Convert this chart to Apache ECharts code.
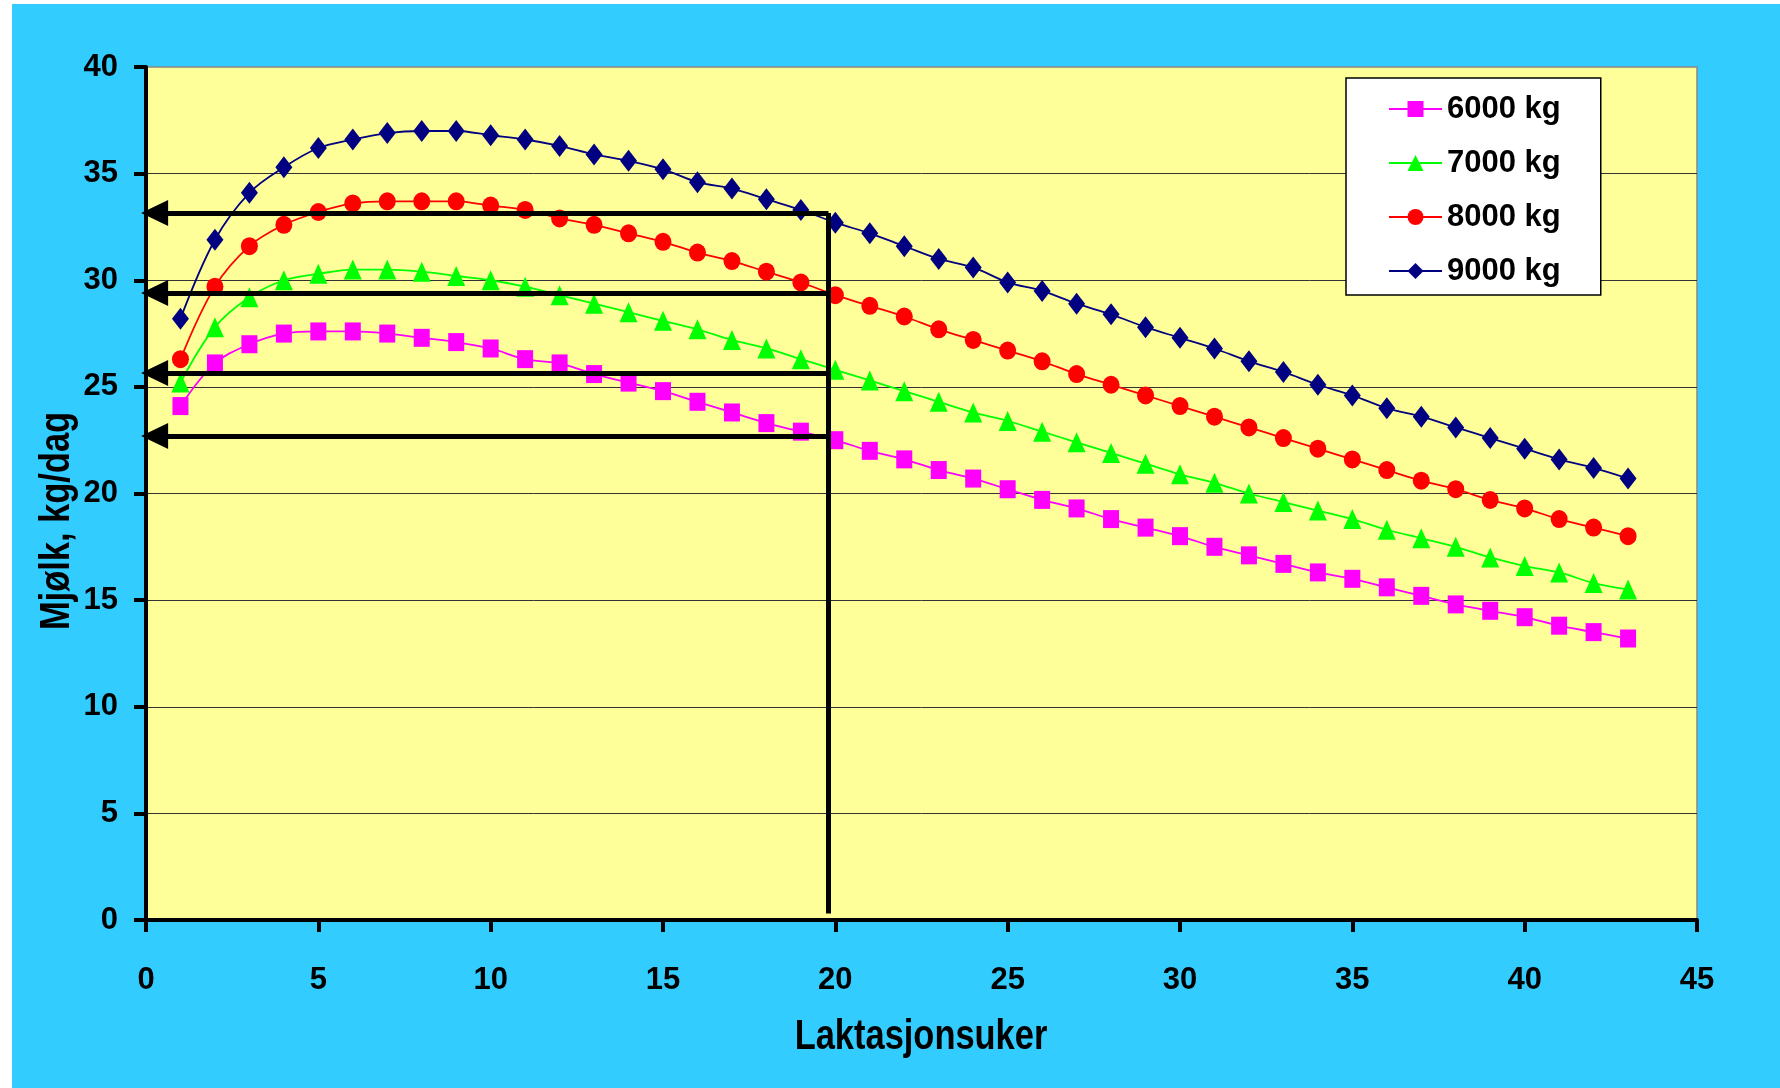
<!DOCTYPE html>
<html>
<head>
<meta charset="utf-8">
<script src="https://cdn.jsdelivr.net/npm/echarts@6/dist/echarts.min.js"></script>
<style>
  html, body { margin: 0; padding: 0; background: #ffffff; }
  #bg { position: absolute; left: 12px; top: 4px; width: 1768px; height: 1084px; background: #33CCFF; }
  #chart { position: absolute; left: 0; top: 0; width: 1780px; height: 1088px; }
</style>
</head>
<body>
<div id="bg"></div>
<div id="chart"></div>
<script>
// ---- data ----
const weeks = [1,2,3,4,5,6,7,8,9,10,11,12,13,14,15,16,17,18,19,20,21,22,23,24,25,26,27,28,29,30,31,32,33,34,35,36,37,38,39,40,41,42,43];
const seriesNames = ['6000 kg', '7000 kg', '8000 kg', '9000 kg'];
const kg6000 = [24.1, 26.1, 27.0, 27.5, 27.6, 27.6, 27.5, 27.3, 27.1, 26.8, 26.3, 26.1, 25.6, 25.2, 24.8, 24.3, 23.8, 23.3, 22.9, 22.5, 22.0, 21.6, 21.1, 20.7, 20.2, 19.7, 19.3, 18.8, 18.4, 18.0, 17.5, 17.1, 16.7, 16.3, 16.0, 15.6, 15.2, 14.8, 14.5, 14.2, 13.8, 13.5, 13.2];
const kg7000 = [25.2, 27.8, 29.2, 30.0, 30.3, 30.5, 30.5, 30.4, 30.2, 30.0, 29.7, 29.3, 28.9, 28.5, 28.1, 27.7, 27.2, 26.8, 26.3, 25.8, 25.3, 24.8, 24.3, 23.8, 23.4, 22.9, 22.4, 21.9, 21.4, 20.9, 20.5, 20.0, 19.6, 19.2, 18.8, 18.3, 17.9, 17.5, 17.0, 16.6, 16.3, 15.8, 15.5];
const kg8000 = [26.3, 29.7, 31.6, 32.6, 33.2, 33.6, 33.7, 33.7, 33.7, 33.5, 33.3, 32.9, 32.6, 32.2, 31.8, 31.3, 30.9, 30.4, 29.9, 29.3, 28.8, 28.3, 27.7, 27.2, 26.7, 26.2, 25.6, 25.1, 24.6, 24.1, 23.6, 23.1, 22.6, 22.1, 21.6, 21.1, 20.6, 20.2, 19.7, 19.3, 18.8, 18.4, 18.0];
const kg9000 = [28.2, 31.9, 34.1, 35.3, 36.2, 36.6, 36.9, 37.0, 37.0, 36.8, 36.6, 36.3, 35.9, 35.6, 35.2, 34.6, 34.3, 33.8, 33.3, 32.7, 32.2, 31.6, 31.0, 30.6, 29.9, 29.5, 28.9, 28.4, 27.8, 27.3, 26.8, 26.2, 25.7, 25.1, 24.6, 24.0, 23.6, 23.1, 22.6, 22.1, 21.6, 21.2, 20.7];
const arrowLevels = [33.15, 29.4, 25.65, 22.7];
const arrowFromWeek = 19.8;
const arrowTipWeek = 0.25;
const verticalBottom = 0.3;
// axes
const xMin = 0, xMax = 45, xStep = 5;
const yMin = 0, yMax = 40, yStep = 5;
const xTitle = 'Laktasjonsuker';
const yTitle = 'Mjølk, kg/dag';

// ---- chart ----
const FONT = "'Liberation Sans', Arial, sans-serif";
const colors = ['#FF00FF', '#00FF00', '#FF0000', '#000080'];
const symbols = ['rect', 'triangle', 'circle', 'diamond'];
const symbolSizes = [[16, 18], [18, 20], [17, 18], [17, 22]];
const allValues = [kg6000, kg7000, kg8000, kg9000];

const lineSeries = allValues.map((vals, i) => ({
  name: seriesNames[i],
  type: 'line',
  data: weeks.map((w, k) => [w, vals[k]]),
  smooth: 0.35,
  symbol: symbols[i],
  symbolSize: symbolSizes[i],
  showAllSymbol: true,
  z: 3,
  lineStyle: { color: colors[i], width: 1.8 },
  itemStyle: { color: colors[i] }
}));

const markData = arrowLevels.map(v => [
  { coord: [arrowFromWeek, v] },
  { coord: [arrowTipWeek, v] }
]);
markData.push([
  { coord: [arrowFromWeek, arrowLevels[0]], symbol: 'none' },
  { coord: [arrowFromWeek, verticalBottom], symbol: 'none' }
]);

const annotSeries = {
  name: 'annot',
  type: 'line',
  data: [],
  silent: true,
  z: 4,
  markLine: {
    silent: true,
    animation: false,
    symbol: ['none', 'triangle'],
    symbolSize: [26, 27],
    label: { show: false },
    emphasis: { disabled: true },
    lineStyle: { color: '#000000', width: 5, type: 'solid' },
    itemStyle: { color: '#000000' },
    data: markData
  }
};

const chart = echarts.init(document.getElementById('chart'), null, { renderer: 'canvas' });
chart.setOption({
  backgroundColor: 'transparent',
  animation: false,
  textStyle: { fontFamily: FONT },
  grid: {
    left: 146, right: 83, top: 67, bottom: 168,
    show: true,
    backgroundColor: '#FFFF99',
    borderColor: '#888888',
    borderWidth: 1.5
  },
  legend: {
    data: seriesNames,
    orient: 'vertical',
    left: 1346,
    top: 78,
    padding: [14, 40, 7, 42],
    itemGap: 20,
    itemWidth: 53,
    itemHeight: 20,
    backgroundColor: '#FFFFFF',
    borderColor: '#000000',
    borderWidth: 1.5,
    borderRadius: 0,
    textStyle: { fontFamily: FONT, fontSize: 31, fontWeight: 'bold', color: '#000', lineHeight: 34 }
  },
  xAxis: {
    type: 'value',
    min: xMin, max: xMax, interval: xStep,
    axisLine: { show: true, onZero: false, lineStyle: { color: '#000', width: 4 } },
    axisTick: { show: true, inside: false, length: 12, lineStyle: { color: '#000', width: 4 } },
    axisLabel: { fontFamily: FONT, fontSize: 31, fontWeight: 'bold', color: '#000', margin: 45 },
    splitLine: { show: false }
  },
  yAxis: {
    type: 'value',
    min: yMin, max: yMax, interval: yStep,
    axisLine: { show: true, onZero: false, lineStyle: { color: '#000', width: 4 } },
    axisTick: { show: true, inside: false, length: 12, lineStyle: { color: '#000', width: 4 } },
    axisLabel: { fontFamily: FONT, fontSize: 31, fontWeight: 'bold', color: '#000', margin: 28 },
    splitLine: { show: true, showMaxLine: false, lineStyle: { color: '#333333', width: 1 } }
  },
  graphic: [{
    type: 'text',
    x: 921,
    y: 1037,
    scaleX: 0.82,
    silent: true,
    style: {
      text: xTitle,
      fontFamily: FONT,
      fontSize: 42,
      fontWeight: 'bold',
      fill: '#000',
      align: 'center',
      verticalAlign: 'middle'
    }
  }, {
    type: 'text',
    x: 57,
    y: 521,
    rotation: Math.PI / 2,
    scaleX: 0.82,
    silent: true,
    style: {
      text: yTitle,
      fontFamily: FONT,
      fontSize: 42,
      fontWeight: 'bold',
      fill: '#000',
      align: 'center',
      verticalAlign: 'middle'
    }
  }],
  series: [annotSeries].concat(lineSeries)
});
</script>
</body>
</html>
